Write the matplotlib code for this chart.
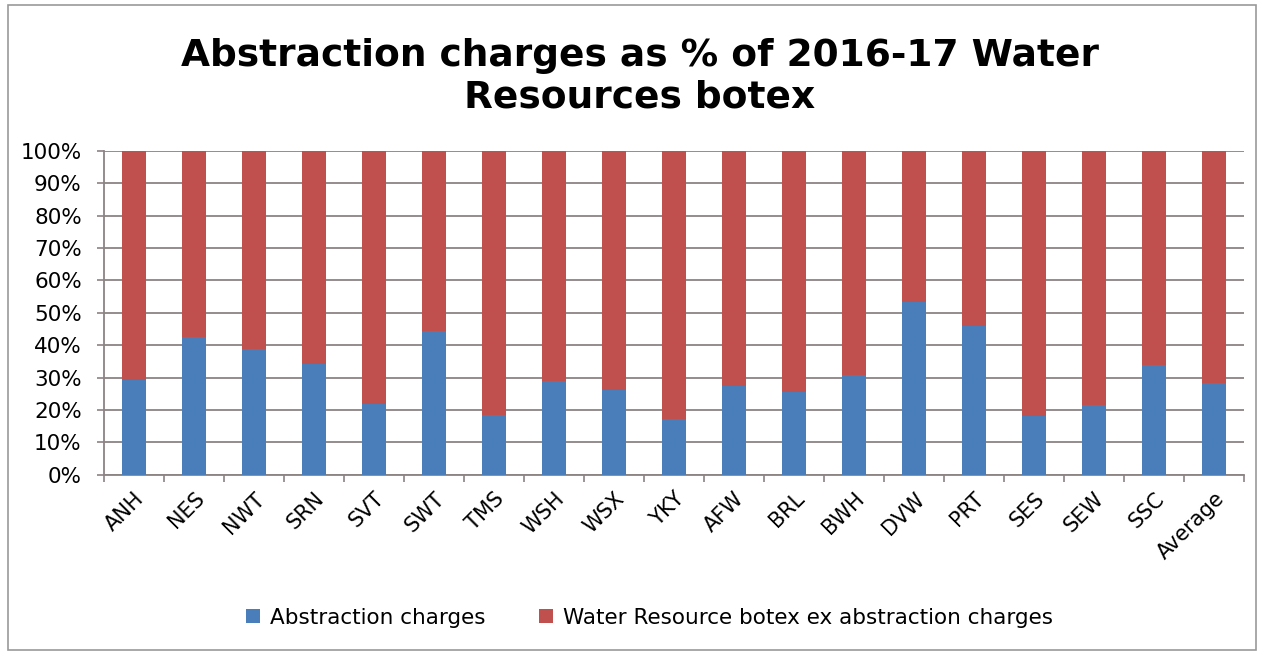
import matplotlib
matplotlib.use("Agg")
from matplotlib import pyplot as plt
from matplotlib.patches import Rectangle
import numpy as np

companies = ["ANH", "NES", "NWT", "SRN", "SVT", "SWT", "TMS", "WSH", "WSX", "YKY",
             "AFW", "BRL", "BWH", "DVW", "PRT", "SES", "SEW", "SSC", "Average"]
abstraction = [29.2, 42.6, 38.7, 34.1, 21.8, 44.4, 18.5, 28.9, 26.2, 17.2,
               27.3, 25.4, 30.9, 53.3, 46.0, 18.2, 21.4, 33.9, 28.2]
remainder = [100 - a for a in abstraction]

blue = "#4a7ebb"
red = "#c0504d"
grid_col = "#8c8383"

fig = plt.figure(figsize=(12.64, 6.55), dpi=100)
fig.patches.append(Rectangle((0.006, 0.008), 0.988, 0.984, transform=fig.transFigure,
                             fill=False, edgecolor="#9a9a9a", linewidth=1.2))
ax = fig.add_axes([0.0823, 0.2753, 0.9019, 0.4942])

x = np.arange(len(companies))
ax.bar(x, abstraction, width=0.39, color=blue, label="Abstraction charges", zorder=3)
ax.bar(x, remainder, width=0.39, bottom=abstraction, color=red,
       label="Water Resource botex ex abstraction charges", zorder=3)

ax.set_xlim(-0.5, len(companies) - 0.5)
ax.set_ylim(0, 100)
ax.set_yticks(np.arange(0, 101, 10))
ax.set_yticklabels([f"{v}%" for v in range(0, 101, 10)], fontsize=15.5)
ax.yaxis.grid(True, color=grid_col, linewidth=1.3, zorder=0)
ax.tick_params(axis="y", length=5, color=grid_col, width=1.2, pad=11)

ax.set_xticks(x)
ax.set_xticklabels(companies, rotation=45, ha="right", rotation_mode="anchor", fontsize=15)
ax.tick_params(axis="x", which="major", length=0, pad=10)
ax.set_xticks(np.arange(-0.5, len(companies), 1), minor=True)
ax.tick_params(axis="x", which="minor", length=5, color=grid_col, width=1.2)

for side in ["top", "right"]:
    ax.spines[side].set_visible(False)
for side in ["left", "bottom"]:
    ax.spines[side].set_color(grid_col)
    ax.spines[side].set_linewidth(1.3)

fig.text(0.506, 0.883, "Abstraction charges as % of 2016-17 Water\nResources botex",
         ha="center", va="center", fontsize=27, fontweight="bold", linespacing=1.2)

fig.legend(loc="center", bbox_to_anchor=(0.514, 0.057), ncol=2, frameon=False,
           fontsize=15.5, handlelength=0.65, handleheight=0.65, columnspacing=2.5,
           handletextpad=0.45)

plt.savefig("out.png", dpi=100)
